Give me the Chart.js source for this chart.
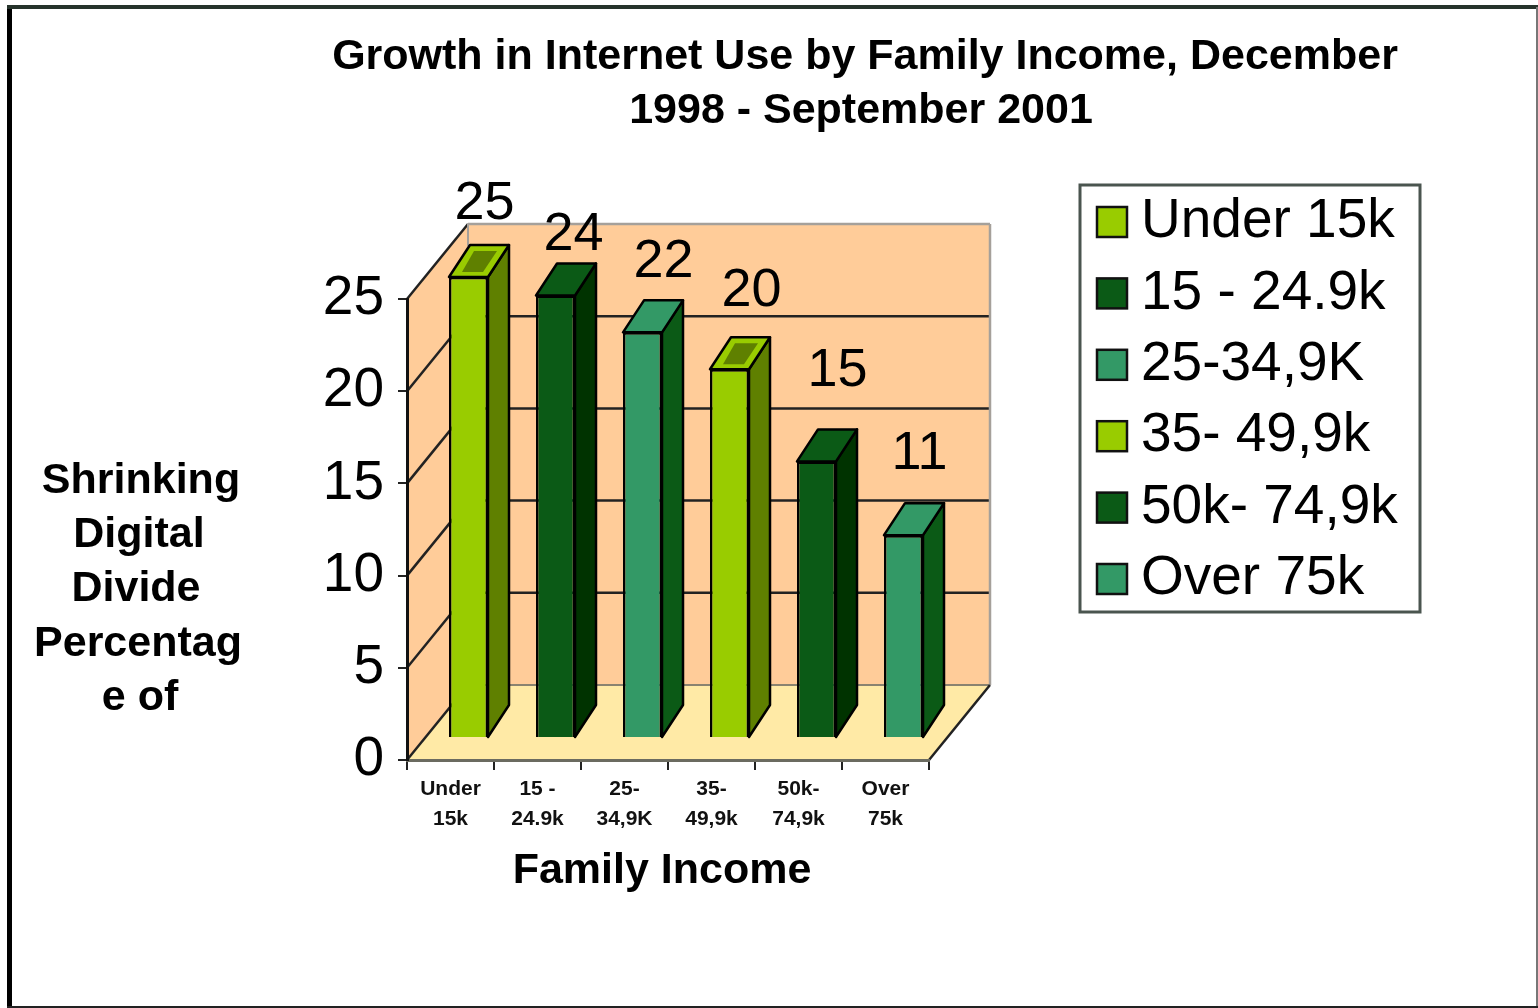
<!DOCTYPE html>
<html>
<head>
<meta charset="utf-8">
<title>Growth in Internet Use by Family Income</title>
<script src="https://cdn.jsdelivr.net/npm/chart.js@4/dist/chart.umd.min.js"></script>
<style>
	html, body { margin: 0; padding: 0; background: #fff; }
	#wrap { position: absolute; left: 0; top: 0; width: 1538px; height: 1008px; }
</style>
</head>
<body>
<div id="wrap"><canvas id="incomeChart" width="1538" height="1008"></canvas></div>
<script>
const categories = [['Under', '15k'], ['15 -', '24.9k'], ['25-', '34,9K'], ['35-', '49,9k'], ['50k-', '74,9k'], ['Over', '75k']];
const legendLabels = ['Under 15k', '15 - 24.9k', '25-34,9K', '35- 49,9k', '50k- 74,9k', 'Over 75k'];
const growth = [25, 24, 22, 20, 15, 11];
const yTicks = [0, 5, 10, 15, 20, 25];
const titleLines = ['Growth in Internet Use by Family Income, December', '1998 - September 2001'];
const yTitleLines = ['Shrinking', 'Digital', 'Divide', 'Percentag', 'e of'];
const xTitle = 'Family Income';

const frontColors = ['#99cc00', '#0b5a16', '#339966', '#99cc00', '#0b5a16', '#339966'];
const sideColors = ['#5f8000', '#003300', '#0b5a16', '#5f8000', '#003300', '#0b5a16'];
const topColors = ['#5f8000', '#0b5a16', '#339966', '#5f8000', '#0b5a16', '#339966'];
const topEdgeColors = ['#99cc00', '#0b5a16', '#339966', '#99cc00', '#0b5a16', '#339966'];

const FONT = '"Liberation Sans", Arial, sans-serif';
const WALL = '#ffcc99';
const FLOOR = '#ffeaa6';

// depth of the box behind the axes, and of the bars standing inside it
const boxDepth = { x: 61, y: -75 };
const barShift = { x: 18, y: -22 };
const barDepth = { x: 21, y: -32 };
// value labels sit a little unevenly above their bars
const labelOffset = [[16, -73], [18, -60], [21, -70], [22, -78], [21, -90], [16, -81]];

function poly(ctx, pts, fill, stroke, width) {
	ctx.beginPath();
	pts.forEach((p, i) => (i ? ctx.lineTo(p[0], p[1]) : ctx.moveTo(p[0], p[1])));
	ctx.closePath();
	if (fill) { ctx.fillStyle = fill; ctx.fill(); }
	if (stroke) { ctx.strokeStyle = stroke; ctx.lineWidth = width || 2; ctx.stroke(); }
}

function line(ctx, x1, y1, x2, y2, color, width) {
	ctx.beginPath();
	ctx.moveTo(x1, y1);
	ctx.lineTo(x2, y2);
	ctx.strokeStyle = color;
	ctx.lineWidth = width;
	ctx.stroke();
}

function text(ctx, str, x, y, font, align) {
	ctx.font = font;
	ctx.fillStyle = '#000';
	ctx.textAlign = align || 'center';
	ctx.textBaseline = 'middle';
	ctx.fillText(str, x, y);
}

// page frame, back walls, floor and the gridlines running round them
const boxPlugin = {
	id: 'box3d',
	beforeDraw(chart) {
		const { ctx, chartArea: a, scales: { y } } = chart;
		const dx = boxDepth.x, dy = boxDepth.y;
		ctx.save();
		ctx.lineCap = 'butt';
		line(ctx, 9.5, 5, 9.5, 1008, '#000', 5);
		line(ctx, 7, 7, 1538, 7, '#26332b', 4);
		line(ctx, 1537, 7, 1537, 1008, '#777', 2);
		line(ctx, 7, 1007, 1538, 1007, '#222', 2);

		poly(ctx, [[a.left, a.top], [a.left + dx, a.top + dy], [a.left + dx, a.bottom + dy], [a.left, a.bottom]], WALL);
		poly(ctx, [[a.left + dx, a.top + dy], [a.right + dx, a.top + dy], [a.right + dx, a.bottom + dy], [a.left + dx, a.bottom + dy]], WALL);
		poly(ctx, [[a.left, a.bottom], [a.right, a.bottom], [a.right + dx, a.bottom + dy], [a.left + dx, a.bottom + dy]], FLOOR);

		yTicks.forEach(v => {
			const py = y.getPixelForValue(v);
			line(ctx, a.left, py, a.left + dx, py + dy, '#222', 2.5);
			if (v > 0 && v < 25) line(ctx, a.left + dx, py + dy, a.right + dx, py + dy, '#222', 2.5);
		});
		line(ctx, a.left + dx, a.bottom + dy, a.right + dx, a.bottom + dy, '#8a8370', 2);
		line(ctx, a.left + dx, a.top + dy, a.right + dx, a.top + dy, '#a5a09a', 2.5);
		line(ctx, a.left + dx, a.top + dy, a.left + dx, a.top + dy + 22, '#a5a09a', 2);
		line(ctx, a.right + dx, a.top + dy, a.right + dx, a.bottom + dy, '#a5a09a', 2.5);
		line(ctx, a.right, a.bottom, a.right + dx, a.bottom + dy, '#222', 2.5);
		ctx.restore();
	},
	// the library's bars are drawn pushed back into the box
	beforeDatasetsDraw(chart) {
		chart.ctx.save();
		chart.ctx.translate(barShift.x, barShift.y);
	},
	afterDatasetsDraw(chart) {
		const ctx = chart.ctx;
		ctx.restore();
		ctx.save();
		ctx.lineJoin = 'round';
		chart.getDatasetMeta(0).data.forEach((bar, i) => {
			const w = bar.width / 2;
			const left = bar.x - w + barShift.x;
			const right = bar.x + w + barShift.x;
			const top = bar.y + barShift.y;
			const base = bar.base + barShift.y;
			const ox = barDepth.x, oy = barDepth.y;
			poly(ctx, [[right, top], [right + ox, top + oy], [right + ox, base + oy], [right, base]], sideColors[i], '#000', 2.5);
			poly(ctx, [[left, top], [right, top], [right + ox, top + oy], [left + ox, top + oy]], topEdgeColors[i], '#000', 2.5);
			if (topColors[i] !== topEdgeColors[i]) {
				poly(ctx, [[left + 13, top - 5], [right - 5, top - 5], [right + ox - 12, top + oy + 6], [left + ox + 4, top + oy + 6]], topColors[i]);
			}
		});
		ctx.restore();
	},
	// titles, value labels and the legend box
	afterDraw(chart) {
		const { ctx, scales: { x, y } } = chart;
		ctx.save();
		text(ctx, titleLines[0], 865, 57, 'bold 43px ' + FONT);
		text(ctx, titleLines[1], 861, 111, 'bold 43px ' + FONT);
		const yTitleX = [141, 139, 136, 138, 140];
		yTitleLines.forEach((s, i) => text(ctx, s, yTitleX[i], 481 + i * 54.3, 'bold 43px ' + FONT));
		text(ctx, xTitle, 662, 871, 'bold 43px ' + FONT);

		growth.forEach((v, i) => {
			const px = x.getPixelForValue(i) + barShift.x + labelOffset[i][0];
			const py = y.getPixelForValue(v) + barShift.y + labelOffset[i][1];
			text(ctx, String(v), px, py, '54px ' + FONT);
		});

		ctx.fillStyle = '#fff';
		ctx.fillRect(1080, 185, 340, 427);
		ctx.strokeStyle = '#4a554f';
		ctx.lineWidth = 3;
		ctx.strokeRect(1080, 185, 340, 427);
		legendLabels.forEach((s, i) => {
			const cy = 222 + i * 71.4;
			ctx.fillStyle = frontColors[i];
			ctx.fillRect(1097, cy - 15, 30, 30);
			ctx.strokeStyle = '#111';
			ctx.lineWidth = 2.5;
			ctx.strokeRect(1097, cy - 15, 30, 30);
			text(ctx, s, 1141, cy, '55px ' + FONT, 'left');
		});
		ctx.restore();
	}
};

new Chart(document.getElementById('incomeChart'), {
	type: 'bar',
	data: {
		labels: categories,
		datasets: [{
			data: growth,
			backgroundColor: frontColors,
			borderColor: '#000',
			borderWidth: 2.5,
			barPercentage: 39 / 87,
			categoryPercentage: 1
		}]
	},
	options: {
		responsive: false,
		animation: false,
		events: [],
		layout: {
			autoPadding: false,
			padding: { left: 107, top: 299, right: 609, bottom: 108 }
		},
		plugins: {
			legend: { display: false },
			title: { display: false },
			tooltip: { enabled: false }
		},
		scales: {
			x: {
				afterFit(scale) { scale.height = 140; },
				grid: { drawOnChartArea: false, color: '#222', lineWidth: 2, tickLength: 10, offset: true },
				border: { color: '#6b6b60', width: 3 },
				ticks: {
					color: '#111',
					font: { family: FONT, size: 21, weight: 'bold', lineHeight: 1.43 },
					padding: 4,
					maxRotation: 0,
					autoSkip: false
				}
			},
			y: {
				min: 0,
				max: 25,
				afterFit(scale) { scale.width = 300; },
				afterBuildTicks(scale) { scale.ticks = yTicks.map(value => ({ value })); },
				grid: { drawOnChartArea: false, color: '#222', lineWidth: 2, tickLength: 9 },
				border: { color: '#111', width: 3 },
				ticks: {
					color: '#000',
					font: { family: FONT, size: 55 },
					padding: 14
				}
			}
		}
	},
	plugins: [boxPlugin]
});
</script>
</body>
</html>
